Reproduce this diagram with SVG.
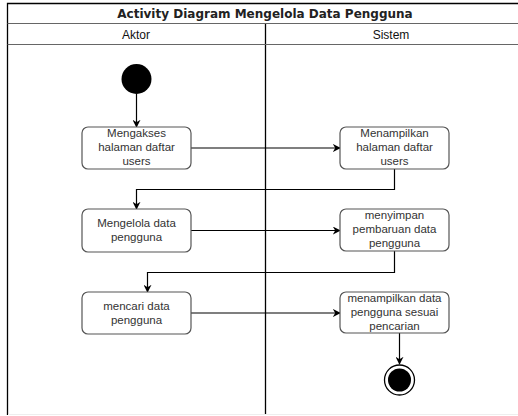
<svg xmlns="http://www.w3.org/2000/svg" width="518" height="416" viewBox="0 0 518 416">
  <defs>
    <marker id="arrow" viewBox="0 0 10 10" refX="9" refY="5" markerWidth="8" markerHeight="8" markerUnits="userSpaceOnUse" orient="auto">
      <path d="M0,0 L10,5 L0,10 L3,5 Z" fill="#000"/>
    </marker>
    <style>
      .frame { fill: none; stroke: #000; stroke-width: 1.3; }
      .sep { fill: none; stroke: #666; stroke-width: 1.2; }
      .title { font-family: "DejaVu Sans", Verdana, sans-serif; font-weight: bold; font-size: 12px; fill: #222; text-anchor: middle; }
      .head { font-family: "Liberation Sans", Arial, sans-serif; font-size: 12px; fill: #111; text-anchor: middle; }
      .act rect { fill: #fff; stroke: #555; stroke-width: 1.2; }
      .act text { font-family: "Liberation Sans", Arial, sans-serif; font-size: 11.5px; fill: #333; text-anchor: middle; }
      .edge { fill: none; stroke: #000; stroke-width: 1.2; marker-end: url(#arrow); }
    </style>
  </defs>
  <rect width="518" height="416" fill="#fff"/>

  <!-- swimlane frame -->
  <g id="pool">
    <path class="frame" d="M7.5,415 V3.5 H520"/>
    <path class="frame" d="M265.5,23.5 V415"/>
    <path class="sep" d="M7.5,23.5 H520"/>
    <path class="sep" d="M7.5,44.5 H520"/>
    <path d="M8,414.5 H520" stroke="#eee" stroke-width="1"/>
    <text class="title" x="265" y="18">Activity Diagram Mengelola Data Pengguna</text>
    <text class="head" x="136" y="38.5">Aktor</text>
    <text class="head" x="391" y="38.5">Sistem</text>
  </g>

  <!-- connectors -->
  <g id="connectors">
    <path class="edge" d="M136.5,94 V127"/>
    <path class="edge" d="M191,148 H340"/>
    <path class="edge" d="M394.5,169 V189.5 H136.5 V209"/>
    <path class="edge" d="M191,230.5 H340"/>
    <path class="edge" d="M394.5,251 V272.5 H147.5 V292"/>
    <path class="edge" d="M191,313 H340"/>
    <path class="edge" d="M399.5,333 V364"/>
  </g>

  <!-- start -->
  <g id="start">
    <circle cx="136.5" cy="79" r="15" fill="#000"/>
  </g>

  <g id="akses" class="act">
    <rect x="82" y="127" width="109" height="42" rx="6"/>
    <text x="136.5" y="137">Mengakses</text>
    <text x="136.5" y="151">halaman daftar</text>
    <text x="136.5" y="165">users</text>
  </g>

  <g id="tampil" class="act">
    <rect x="340" y="127" width="109" height="42" rx="6"/>
    <text x="394.5" y="137">Menampilkan</text>
    <text x="394.5" y="151">halaman daftar</text>
    <text x="394.5" y="165">users</text>
  </g>

  <g id="kelola" class="act">
    <rect x="82" y="209" width="109" height="43" rx="6"/>
    <text x="136.5" y="227">Mengelola data</text>
    <text x="136.5" y="241">pengguna</text>
  </g>

  <g id="simpan" class="act">
    <rect x="340" y="209" width="109" height="42" rx="6"/>
    <text x="394.5" y="219">menyimpan</text>
    <text x="394.5" y="233">pembaruan data</text>
    <text x="394.5" y="247">pengguna</text>
  </g>

  <g id="cari" class="act">
    <rect x="82" y="292" width="109" height="42" rx="6"/>
    <text x="136.5" y="310">mencari data</text>
    <text x="136.5" y="324">pengguna</text>
  </g>

  <g id="hasil" class="act">
    <rect x="340" y="292" width="109" height="41" rx="6"/>
    <text x="394.5" y="302">menampilkan data</text>
    <text x="394.5" y="316">pengguna sesuai</text>
    <text x="394.5" y="330">pencarian</text>
  </g>

  <!-- end -->
  <g id="end">
    <circle cx="399.5" cy="380" r="15" fill="#fff" stroke="#000" stroke-width="1.3"/>
    <circle cx="399.5" cy="380" r="11.5" fill="#000"/>
  </g>
</svg>
